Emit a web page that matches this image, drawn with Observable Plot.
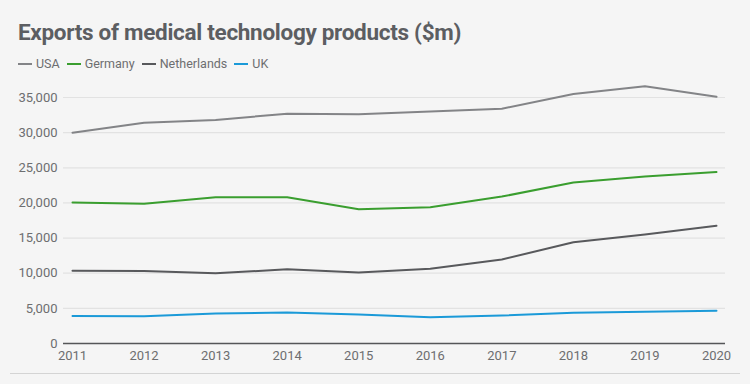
<!DOCTYPE html>
<html>
<head>
<meta charset="utf-8">
<script src="https://cdn.jsdelivr.net/npm/d3@7"></script>
<script src="https://cdn.jsdelivr.net/npm/@observablehq/plot@0.6"></script>
<style>
  html, body { margin: 0; padding: 0; background: #f5f5f5; width: 750px; height: 384px; overflow: hidden; font-family: Roboto, "Open Sans", sans-serif; }
  #title { position: absolute; left: 18px; top: 17px; font-size: 22.5px; font-weight: 700; color: #5c5e62; line-height: 30px; letter-spacing: -0.3px; }
  #legend { position: absolute; left: 18px; top: 56px; font-size: 12.5px; color: #6d6e70; line-height: 16px; display: flex; }
  .item { display: flex; align-items: center; margin-right: 7px; }
  .sw { width: 14px; height: 2px; margin-right: 4px; }
  #chart { position: absolute; left: 0; top: 80px; }
  #rule { position: absolute; left: 10px; top: 373px; width: 730px; height: 1px; background: #d4d4d4; }
</style>
</head>
<body>
<div id="title">Exports of medical technology products ($m)</div>
<div id="legend"></div>
<div id="chart"></div>
<div id="rule"></div>
<script>
const years = [2011, 2012, 2013, 2014, 2015, 2016, 2017, 2018, 2019, 2020];
const seriesNames = ["USA", "Germany", "Netherlands", "UK"];
const seriesColors = ["#838487", "#3a9e2f", "#58595c", "#1b9ad8"];
const usa = [30000, 31400, 31800, 32700, 32600, 33000, 33400, 35500, 36600, 35100];
const germany = [20050, 19900, 20800, 20800, 19100, 19400, 20900, 22900, 23750, 24400];
const netherlands = [10350, 10300, 9980, 10570, 10100, 10650, 11950, 14400, 15500, 16750];
const uk = [3900, 3880, 4270, 4400, 4120, 3750, 3980, 4360, 4500, 4650];
const yTicks = [0, 5000, 10000, 15000, 20000, 25000, 30000, 35000];

const values = [usa, germany, netherlands, uk];
const data = [];
seriesNames.forEach((s, i) => years.forEach((y, j) => data.push({series: s, year: y, value: values[i][j]})));

const legend = document.getElementById("legend");
seriesNames.forEach((s, i) => {
  const it = document.createElement("div");
  it.className = "item";
  it.innerHTML = `<span class="sw" style="background:${seriesColors[i]}"></span><span>${s}</span>`;
  legend.appendChild(it);
});

const chart = Plot.plot({
  width: 750,
  height: 293,
  marginTop: 17,
  marginBottom: 30,
  marginLeft: 63,
  marginRight: 25,
  style: { background: "transparent", fontFamily: "Roboto, 'Open Sans', sans-serif", fontSize: "13px", color: "#6d6e70" },
  x: { domain: [2011, 2020], inset: 9, ticks: years, tickFormat: d => String(d), tickSize: 0, tickPadding: 7, label: null },
  y: { domain: [0, 35000], ticks: yTicks, tickFormat: d3.format(","), tickSize: 0, tickPadding: 6, label: null },
  color: { domain: seriesNames, range: seriesColors },
  marks: [
    Plot.ruleY(yTicks.filter(d => d > 0), { stroke: "#e2e2e2", strokeWidth: 1.2 }),
    Plot.ruleY([0], { stroke: "#555658", strokeWidth: 1.5 }),
    Plot.line(data, { x: "year", y: "value", z: "series", stroke: "series", strokeWidth: 2 })
  ]
});
document.getElementById("chart").appendChild(chart);
</script>
</body>
</html>
